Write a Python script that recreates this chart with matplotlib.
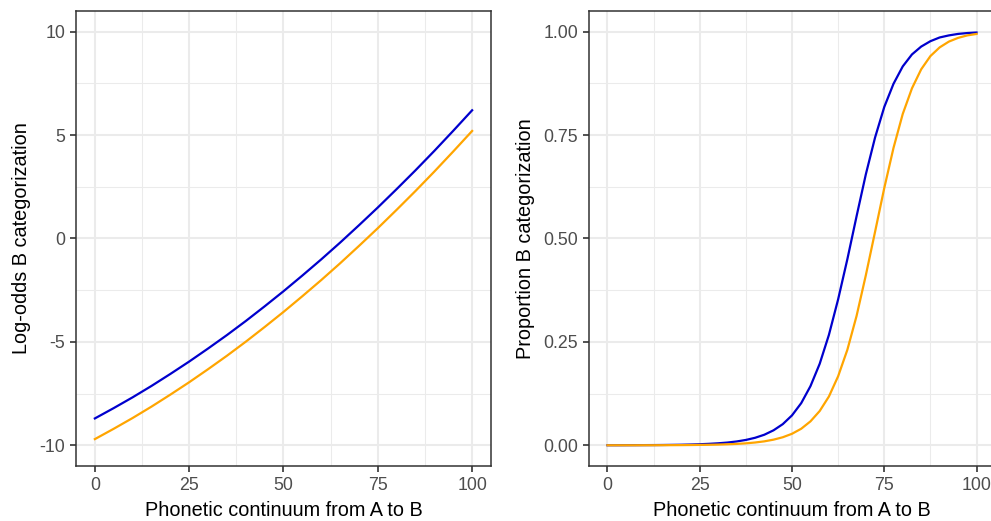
import matplotlib
matplotlib.use("Agg")
import matplotlib.pyplot as plt
from matplotlib.ticker import FixedLocator

plt.rcParams['font.family'] = ['Liberation Sans', 'DejaVu Sans']

# Left panel: log-odds read at steps of 5
x_lo = [0, 5, 10, 15, 20, 25, 30, 35, 40, 45, 50, 55, 60, 65, 70, 75, 80, 85, 90, 95, 100]
blue_lo = [-8.70, -8.20, -7.68, -7.13, -6.55, -5.95, -5.32, -4.67, -3.99, -3.28, -2.55,
           -1.79, -1.01, -0.20, 0.64, 1.50, 2.39, 3.30, 4.24, 5.21, 6.20]
orange_lo = [-9.70, -9.20, -8.68, -8.13, -7.55, -6.95, -6.32, -5.67, -4.99, -4.28, -3.55,
             -2.79, -2.01, -1.20, -0.36, 0.50, 1.39, 2.30, 3.24, 4.21, 5.20]

# Right panel: proportions read at steps of 2.5
x_p = [0, 2.5, 5, 7.5, 10, 12.5, 15, 17.5, 20, 22.5, 25, 27.5, 30, 32.5, 35, 37.5, 40,
       42.5, 45, 47.5, 50, 52.5, 55, 57.5, 60, 62.5, 65, 67.5, 70, 72.5, 75, 77.5, 80,
       82.5, 85, 87.5, 90, 92.5, 95, 97.5, 100]
blue_p = [0.0002, 0.0002, 0.0003, 0.0004, 0.0005, 0.0006, 0.0008, 0.0011, 0.0014, 0.0019,
          0.0026, 0.0036, 0.0049, 0.0067, 0.0093, 0.0130, 0.0182, 0.0256, 0.0363, 0.0512,
          0.0724, 0.102, 0.143, 0.197, 0.267, 0.353, 0.450, 0.554, 0.655, 0.744, 0.818,
          0.874, 0.916, 0.945, 0.964, 0.977, 0.986, 0.991, 0.9946, 0.9967, 0.9980]
orange_p = [0.0001, 0.0001, 0.0001, 0.0001, 0.0002, 0.0002, 0.0003, 0.0004, 0.0005, 0.0007,
            0.0010, 0.0013, 0.0018, 0.0025, 0.0034, 0.0048, 0.0068, 0.0096, 0.0137, 0.0195,
            0.0279, 0.0401, 0.0579, 0.0829, 0.118, 0.167, 0.231, 0.313, 0.411, 0.516, 0.622,
            0.719, 0.801, 0.863, 0.909, 0.941, 0.962, 0.976, 0.985, 0.991, 0.9945]

x_ticks = [0, 25, 50, 75, 100]
lo_ticks = [-10, -5, 0, 5, 10]
lo_labels = ["-10", "-5", "0", "5", "10"]
p_ticks = [0.0, 0.25, 0.5, 0.75, 1.0]
p_labels = ["0.00", "0.25", "0.50", "0.75", "1.00"]

BLUE = "#0000CD"
ORANGE = "#FFA500"
W, H = 991, 521
fig = plt.figure(figsize=(W / 100, H / 100), dpi=100)

def px_axes(x0, x1, y0, y1):
    return fig.add_axes([x0 / W, 1 - y1 / H, (x1 - x0) / W, (y1 - y0) / H])

ax1 = px_axes(76, 491, 11, 466)
ax2 = px_axes(589, 995, 11, 466)

def style(ax, yt, yl, xminor, yminor):
    ax.set_facecolor("white")
    ax.set_xticks(x_ticks)
    ax.set_xticklabels([str(t) for t in x_ticks])
    ax.set_yticks(yt)
    ax.set_yticklabels(yl)
    ax.xaxis.set_minor_locator(FixedLocator(xminor))
    ax.yaxis.set_minor_locator(FixedLocator(yminor))
    ax.grid(which="major", color="#EBEBEB", linewidth=1.45, zorder=0)
    ax.grid(which="minor", color="#EBEBEB", linewidth=0.75, zorder=0)
    ax.set_axisbelow(True)
    for s in ax.spines.values():
        s.set_color("#333333")
        s.set_linewidth(1.1)
    ax.tick_params(which="major", length=4.5, width=1.2, color="#333333",
                   labelsize=12.8, labelcolor="#4D4D4D", pad=3.2)
    ax.tick_params(which="minor", length=0)

ax1.plot(x_lo, blue_lo, color=BLUE, linewidth=1.6, zorder=3)
ax1.plot(x_lo, orange_lo, color=ORANGE, linewidth=1.6, zorder=3)
ax1.set_xlim(-5, 105)
ax1.set_ylim(-11, 11)
style(ax1, lo_ticks, lo_labels, [12.5, 37.5, 62.5, 87.5], [-7.5, -2.5, 2.5, 7.5])
ax1.set_xlabel("Phonetic continuum from A to B", fontsize=14.3, color="black", labelpad=5)
ax1.set_ylabel("Log-odds B categorization", fontsize=14.3, color="black", labelpad=6)

ax2.plot(x_p, blue_p, color=BLUE, linewidth=1.6, zorder=3)
ax2.plot(x_p, orange_p, color=ORANGE, linewidth=1.6, zorder=3)
ax2.set_xlim(-5, 105)
ax2.set_ylim(-0.05, 1.05)
style(ax2, p_ticks, p_labels, [12.5, 37.5, 62.5, 87.5], [0.125, 0.375, 0.625, 0.875])
ax2.set_xlabel("Phonetic continuum from A to B", fontsize=14.3, color="black", labelpad=5)
ax2.set_ylabel("Proportion B categorization", fontsize=14.3, color="black", labelpad=6)

fig.savefig("out.png", dpi=100, facecolor="white")
